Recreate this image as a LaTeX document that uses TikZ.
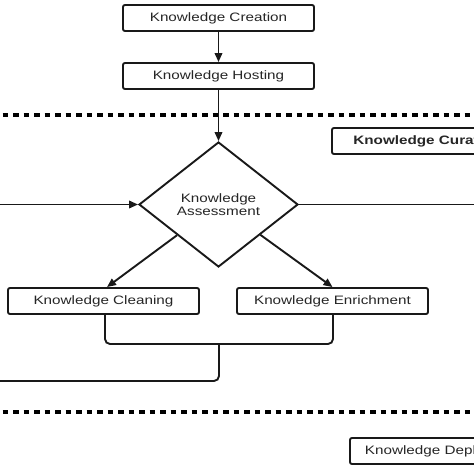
\documentclass[tikz,border=0pt]{standalone}
\usepackage{fontspec}
\setmainfont[FakeStretch=1.25]{Liberation Sans}
\usetikzlibrary{shapes.geometric,arrows.meta}
\begin{document}
\begin{tikzpicture}[x=1pt,y=-1pt,
  every node/.style={font=\fontsize{12.2}{12.8}\selectfont, text=black!85},
  box/.style={draw=black!90, line width=1.9pt, rounded corners=2pt, minimum width=191pt, minimum height=26pt, inner sep=0pt},
  conn/.style={draw=black!90, line width=1.9pt},
  arr/.style={conn, -{Triangle[length=9pt,width=7.5pt]}},
  sep/.style={draw=black, line width=4pt, dash pattern=on 5.5pt off 5pt}]
\useasboundingbox (0,0) rectangle (474,474);
\clip (0,0) rectangle (474,474);
\fill[white] (0,0) rectangle (474,474);
% separators
\draw[sep] (2.5,115) -- (480,115);
\draw[sep] (2.5,412) -- (480,412);
% nodes
\node[box] (create) at (218.5,18) {Knowledge Creation};
\node[box] (host) at (218.5,76) {Knowledge Hosting};
\node[box, font=\fontsize{12.2}{12.8}\selectfont\bfseries] (cur) at (427.5,141) {Knowledge Curation};
\node[draw=black!90, line width=1.9pt, diamond, minimum width=159pt, minimum height=125pt, inner sep=0pt, align=center] (assess) at (218.5,204.5) {Knowledge\\Assessment};
\node[box] (clean) at (103.5,301) {Knowledge Cleaning};
\node[box] (enrich) at (332.5,301) {Knowledge Enrichment};
\node[box] (deploy) at (445.5,451) {Knowledge Deployment};
% coordinates
\coordinate (inL) at (-2,204.5);
\coordinate (outR) at (480,204.5);
\coordinate (join) at (219,344);
\coordinate (backL) at (-2,381);
% connectors
\draw[arr] (create) -- (host);
\draw[arr] (host) -- (assess.north);
\draw[arr] (inL) -- (assess.west);
\draw[conn] (assess.east) -- (outR);
\draw[arr] (assess) -- ([xshift=3.5pt]clean.north);
\draw[arr] (assess) -- (enrich.north);
\draw[conn, rounded corners=5pt] ([xshift=1.5pt]clean.south) -- ([xshift=1.5pt]clean.south |- join) -- ([xshift=0.5pt]enrich.south |- join) -- ([xshift=0.5pt]enrich.south);
\draw[conn, rounded corners=5pt] (join) -- (join |- backL) -- (backL);
\end{tikzpicture}
\end{document}
